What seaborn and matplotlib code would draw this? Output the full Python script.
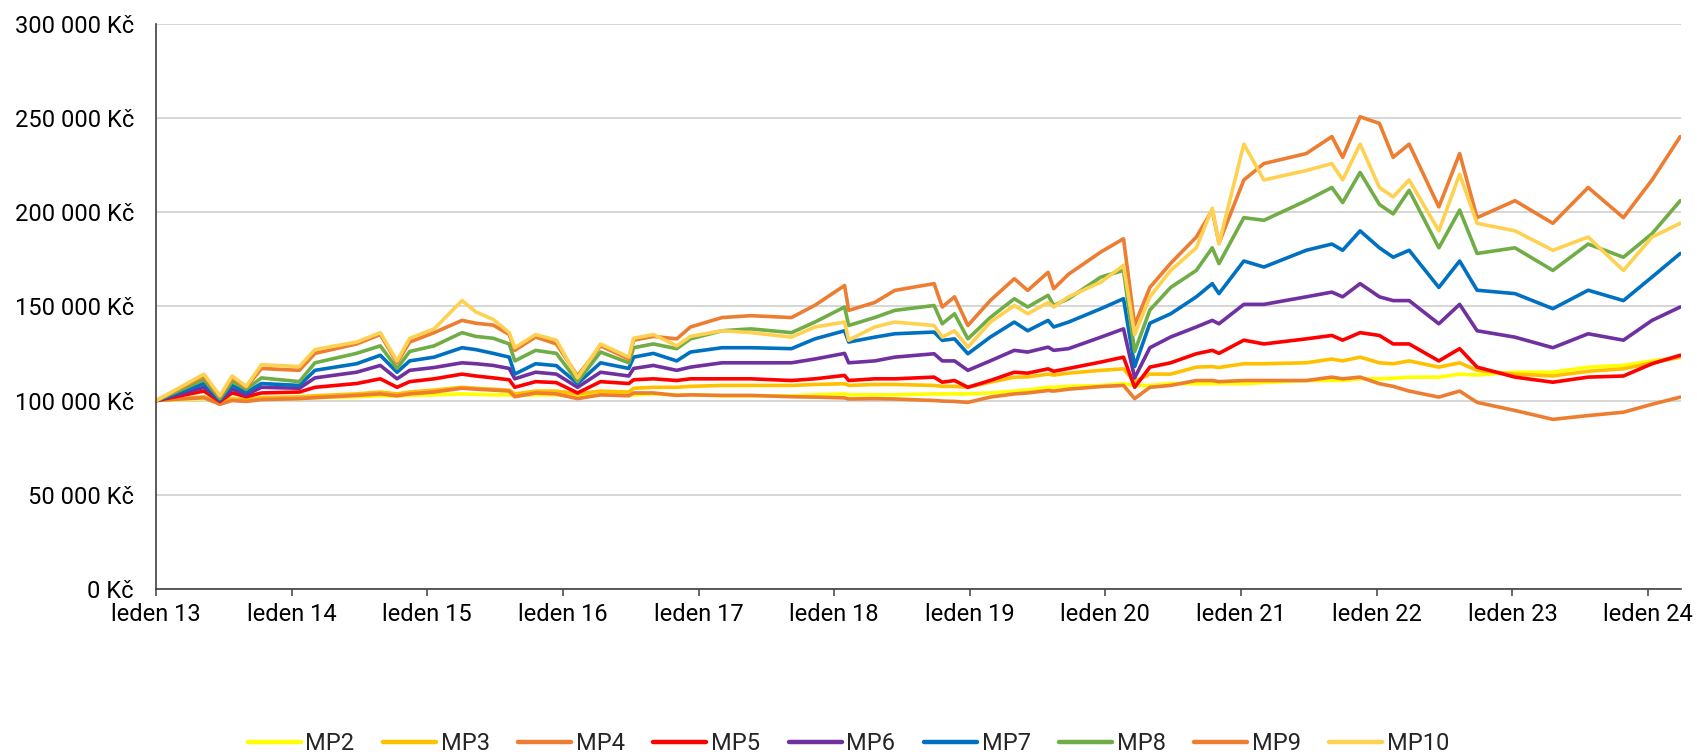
import pandas as pd
import matplotlib
matplotlib.use("Agg")
import matplotlib.pyplot as plt
import matplotlib.dates as mdates
from matplotlib.ticker import FuncFormatter
from matplotlib.lines import Line2D
import seaborn as sns

sns.set_theme(style="white")
plt.rcParams["font.family"] = ["Roboto", "DejaVu Sans"]

# dates of read-off points
dates = [
    "2013-01-02", "2013-05-10", "2013-06-22", "2013-07-25", "2013-09-01", "2013-10-12",
    "2014-01-22", "2014-03-05", "2014-06-25", "2014-08-28", "2014-10-12", "2014-11-15",
    "2015-01-20", "2015-04-05", "2015-05-12", "2015-06-28", "2015-08-10", "2015-08-25",
    "2015-10-20", "2015-12-15", "2016-02-10", "2016-04-12", "2016-06-27", "2016-07-10",
    "2016-09-01", "2016-11-03", "2016-12-10", "2017-03-05", "2017-05-22", "2017-09-08",
    "2017-11-10", "2018-01-29", "2018-02-09", "2018-04-20", "2018-06-13", "2018-09-27",
    "2018-10-19", "2018-11-21", "2018-12-27", "2019-02-25", "2019-05-01", "2019-06-06",
    "2019-07-31", "2019-08-15", "2019-09-24", "2019-12-20", "2020-02-19", "2020-03-20",
    "2020-04-30", "2020-06-25", "2020-09-02", "2020-10-15", "2020-11-02",
    "2021-01-08", "2021-03-03", "2021-06-25", "2021-09-02", "2021-10-01", "2021-11-17",
    "2022-01-08", "2022-02-14", "2022-03-29", "2022-06-17", "2022-08-12", "2022-09-28",
    "2023-01-08", "2023-04-20", "2023-07-24", "2023-10-27", "2024-01-12", "2024-03-28",
]

# values in thousands of CZK
mp2 = [100, 101, 99.5, 100.5, 100.3, 101, 101, 101.5, 102, 102.5, 102.3, 102.8,
       103, 103.5, 103.3, 103, 103, 102.5, 103, 103, 102, 103, 103, 103,
       103.5, 103, 103, 102.5, 102.5, 102.5, 103, 103.5, 103, 103, 103, 103.5,
       103.5, 103.5, 103.5, 104, 105, 105.5, 107, 107, 107.5, 108, 108.9, 108,
       108, 109, 108.9, 109, 109,
       108.9, 109.5, 110.6, 110.6, 110.6, 111.5,
       111.5, 111.8, 112.4, 112.4, 114, 113.5, 115, 115, 117.7, 118.6, 121, 123]
mp3 = [100, 102, 99.5, 101, 100.5, 101.5, 102, 102.5, 103.5, 104.5, 103.5, 104.5,
       105.5, 107, 106.5, 106, 105.5, 103.5, 105, 105, 103.5, 105, 104.5, 106.5,
       107, 107, 107.5, 108, 108, 108, 108.5, 108.9, 108, 108.5, 108.5, 108,
       107.5, 107.5, 107, 109.7, 112.4, 112.5, 114, 113.5, 114.5, 116, 116.8, 110,
       114, 114, 117.7, 118, 117.5,
       119.5, 119.5, 120, 122, 121, 123,
       120, 119.5, 121, 117.7, 120, 116, 114, 113, 115.5, 116.8, 120, 123]
mp4 = [100, 101.5, 98, 100, 99.5, 100.5, 101, 101.5, 102.7, 103.5, 102.5, 103.5,
       104.5, 106.5, 106, 105.5, 105, 102, 104, 103.5, 101, 103, 102.5, 104,
       104, 102.7, 103, 102.7, 102.7, 102, 101.8, 101.4, 100.8, 101, 100.8, 100,
       99.7, 99.5, 99, 101.8, 103.5, 104, 105.3, 105, 106, 107.4, 108, 101,
       107, 108, 110.6, 110.6, 110,
       110.6, 110.6, 110.6, 112.4, 111.5, 112.4,
       108.9, 107.5, 105, 101.8, 105, 99, 94.7, 90, 92, 93.8, 98, 101.8]
mp5 = [100, 105, 99.5, 104, 102, 104, 104.5, 107, 109, 111.5, 107, 110,
       111.5, 114, 113, 112, 111, 107, 110, 109.5, 104, 110, 109, 111,
       111.5, 110.6, 111.5, 111.5, 111.5, 110.6, 111.5, 113.3, 110.6, 111.5, 111.5, 112.4,
       109.7, 110.6, 107, 110.6, 115, 114.5, 116.8, 115.5, 117, 120.4, 123, 107,
       117.7, 120, 124.8, 126.6, 125,
       132, 130, 132.7, 134.5, 132, 136,
       134.5, 130, 130, 121, 127.5, 117.7, 112.4, 109.7, 112.4, 113, 119.5, 124]
mp6 = [100, 107, 100, 106, 103, 107, 106.5, 112, 115, 118.6, 111.5, 116,
       117.5, 120, 119.5, 118.6, 117, 111.5, 115, 114, 107, 115, 113, 117,
       118.6, 116, 117.7, 120, 120, 120, 122, 125, 120, 121, 123, 124.8,
       121, 121, 116, 121, 126.6, 125.7, 128.3, 126.6, 127.5, 133.6, 138, 112,
       128, 133.7, 139, 142.5, 140.7,
       151, 151, 155, 157.5, 155, 162,
       155, 153, 153, 140.7, 151, 137, 133.6, 128, 135.4, 132, 142.5, 149.6]
mp7 = [100, 109, 100.5, 108, 104.5, 109, 108, 116, 119.5, 124, 115, 121,
       123, 128, 127, 125, 123, 114, 119.5, 118.5, 109, 120, 117, 123,
       125, 121, 125.7, 128, 128, 127.5, 132.7, 137, 131, 133.6, 135.4, 136.3,
       131.9, 132.7, 124.8, 133.6, 141.6, 137, 142.5, 139, 141.6, 148.7, 154, 118,
       141, 146, 155, 162, 156.7,
       174, 170.8, 179.7, 183, 179.7, 190,
       181, 176, 179.7, 160, 174, 158.5, 156.7, 148.7, 158.5, 153, 165.5, 178]
mp8 = [100, 111, 101, 110, 106, 112, 110, 120, 125, 129, 117, 126,
       129, 136, 134, 133, 130, 121, 126.6, 125, 110, 125.7, 120, 128,
       130, 127.5, 132.7, 137, 138, 136, 141.6, 149.6, 139.8, 144, 147.8, 150.4,
       140.7, 146, 132.7, 144, 154, 149.6, 155.8, 150.4, 154, 165.5, 169, 126,
       148, 160, 169, 181, 172.6,
       197, 195.6, 206, 213, 205, 221,
       204, 199, 211.5, 181, 201, 178, 181, 169, 183, 176, 188.5, 206]
mp9 = [100, 113, 102, 112, 107, 117, 116, 125, 130, 135, 120, 131,
       136, 142.5, 141, 140, 135, 126.6, 133.7, 130, 113, 129, 122, 132,
       134, 132.7, 139, 144, 145, 144, 150.5, 161, 147.8, 152, 158.4, 162,
       149.6, 155, 139.8, 153, 164.6, 158.4, 168, 159.3, 167, 178.8, 185.8, 140,
       160, 172.8, 186.7, 201, 183.5,
       217, 225.7, 231, 240, 229, 250.5,
       247, 229, 236, 202.7, 231, 197, 206, 194, 213, 197, 217, 240]
mp10 = [100, 114, 102.5, 113, 107.5, 119, 118, 127, 131, 136, 121, 133,
        138, 153, 147, 143, 136, 128, 135, 132, 112, 130, 123, 133,
        135, 129, 134, 137, 136, 133.6, 139, 141.6, 132, 139, 141.6, 139.8,
        133.6, 137, 128.3, 141.6, 150.4, 146, 152, 149.6, 155, 162.8, 171.7, 135,
        155, 169, 181, 202, 183,
        236, 217, 222, 225.7, 217, 236,
        213, 208, 217, 190, 220, 194, 190, 179.7, 186.7, 169, 186.7, 194]

names = ["MP2", "MP3", "MP4", "MP5", "MP6", "MP7", "MP8", "MP9", "MP10"]
series = [mp2, mp3, mp4, mp5, mp6, mp7, mp8, mp9, mp10]
colors = ["#FFFF00", "#FFC000", "#ED7D31", "#FF0000", "#7030A0",
          "#0070C0", "#70AD47", "#ED7D31", "#FFD150"]

rows = []
for name, vals in zip(names, series):
    assert len(vals) == len(dates), name
    for d, v in zip(dates, vals):
        rows.append({"date": pd.Timestamp(d), "value": v * 1000, "fund": name})
df = pd.DataFrame(rows)

fig = plt.figure(figsize=(16.97, 7.55), dpi=100)
ax = fig.add_axes([156 / 1697, 1 - 589 / 755, (1681 - 156) / 1697, (589 - 23.5) / 755])

sns.lineplot(data=df, x="date", y="value", hue="fund", hue_order=names,
             palette=dict(zip(names, colors)), linewidth=2.6, sort=False,
             legend=False, ax=ax)

ax.set_xlim(pd.Timestamp("2013-01-01"), pd.Timestamp("2024-03-30"))
ax.set_ylim(0, 300000)
ax.set_yticks(range(0, 300001, 50000))
ax.yaxis.set_major_formatter(FuncFormatter(lambda v, p: f"{v:,.0f}".replace(",", " ") + " Kč"))
ax.xaxis.set_major_locator(mdates.YearLocator())
ax.xaxis.set_major_formatter(FuncFormatter(lambda v, p: "leden " + mdates.num2date(v).strftime("%y")))
ax.set_xlabel("")
ax.set_ylabel("")

ax.grid(axis="y", color="#CFCFCF", linewidth=1.2)
ax.set_axisbelow(True)
for s in ["top", "right"]:
    ax.spines[s].set_visible(False)
for s in ["left", "bottom"]:
    ax.spines[s].set_color("#404040")
    ax.spines[s].set_linewidth(1.2)
ax.tick_params(axis="y", length=0, pad=16, labelsize=17, labelcolor="#000000")
ax.tick_params(axis="x", bottom=True, length=5, width=1.1, color="#404040",
               pad=5, labelsize=17, labelcolor="#000000")

handles = [Line2D([0], [0], color=c, linewidth=3.2) for c in colors]
fig.legend(handles, names, loc="center", bbox_to_anchor=(0.5, 1 - 744 / 755),
           ncol=9, frameon=False, fontsize=17, handlelength=2.25,
           handletextpad=0.2, columnspacing=1.2)

fig.savefig("out.png", dpi=100)
